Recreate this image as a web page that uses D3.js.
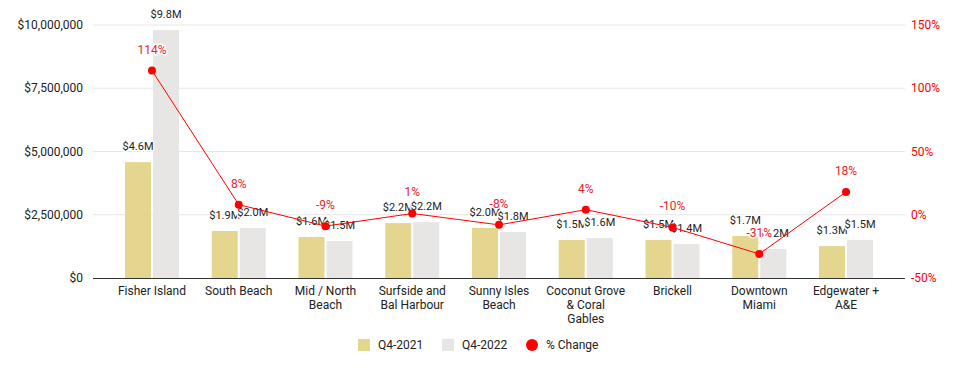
<!DOCTYPE html>
<html>
<head>
<meta charset="utf-8">
<script src="https://cdn.jsdelivr.net/npm/d3@7"></script>
<style>
  body { margin: 0; background: #fff; }
  svg { font-family: Roboto, "Noto Sans", Arial, sans-serif; }
</style>
</head>
<body>
<svg id="chart"></svg>
<script>
// data
const areas = [
  ["Fisher Island"], ["South Beach"], ["Mid / North", "Beach"],
  ["Surfside and", "Bal Harbour"], ["Sunny Isles", "Beach"],
  ["Coconut Grove", "& Coral", "Gables"], ["Brickell"],
  ["Downtown", "Miami"], ["Edgewater +", "A&E"]
];
const q4_2021 = [4.58, 1.86, 1.62, 2.17, 1.98, 1.50, 1.50, 1.66, 1.26];
const q4_2022 = [9.80, 1.98, 1.46, 2.21, 1.82, 1.58, 1.34, 1.15, 1.50];
const q4_2021_labels = ["$4.6M", "$1.9M", "$1.6M", "$2.2M", "$2.0M", "$1.5M", "$1.5M", "$1.7M", "$1.3M"];
const q4_2022_labels = ["$9.8M", "$2.0M", "$1.5M", "$2.2M", "$1.8M", "$1.6M", "$1.4M", "$1.2M", "$1.5M"];
const pctChange = [114, 8, -9, 1, -8, 4, -10, -31, 18];
const leftTicks = [0, 2.5, 7.5, 5, 10];
const rightTicks = [-50, 0, 50, 100, 150];
const seriesNames = ["Q4-2021", "Q4-2022", "% Change"];

const W = 962, H = 371;
const col2021 = "#e5d68f", col2022 = "#e8e6e4", red = "#ff0000", redText = "#e8232a";

const svg = d3.select("#chart").attr("width", W).attr("height", H);

const x0 = 93, x1 = 905, yTop = 25, yBot = 278;
const keys = areas.map(a => a.join(" "));
const x = d3.scaleBand().domain(keys).range([108.6, 889.4]);
const y = d3.scaleLinear().domain([0, 10]).range([yBot, yTop]);
const yr = d3.scaleLinear().domain([-50, 150]).range([yBot, yTop]);

// gridlines
svg.append("g").selectAll("line").data(leftTicks.filter(d => d > 0)).join("line")
  .attr("x1", x0).attr("x2", x1)
  .attr("y1", d => y(d)).attr("y2", d => y(d))
  .attr("stroke", "#e6e6e6").attr("stroke-width", 1);

// left axis labels
svg.append("g").selectAll("text").data(leftTicks).join("text")
  .attr("x", 83).attr("y", d => y(d)).attr("dy", "0.35em")
  .attr("text-anchor", "end").attr("font-size", 12).attr("fill", "#222")
  .text(d => "$" + d3.format(",")(d * 1e6));

// right axis labels
svg.append("g").selectAll("text").data(rightTicks).join("text")
  .attr("x", 911).attr("y", d => yr(d)).attr("dy", "0.35em")
  .attr("text-anchor", "start").attr("font-size", 12).attr("fill", red)
  .text(d => d + "%");

const bw = 26, gap = 1;
const groups = svg.append("g").selectAll("g").data(keys).join("g")
  .attr("transform", d => `translate(${x(d) + x.bandwidth() / 2},0)`);

groups.append("rect")
  .attr("x", -bw - gap).attr("width", bw)
  .attr("y", (d, i) => y(q4_2021[i])).attr("height", (d, i) => yBot - y(q4_2021[i]))
  .attr("fill", col2021);
groups.append("rect")
  .attr("x", gap).attr("width", bw)
  .attr("y", (d, i) => y(q4_2022[i])).attr("height", (d, i) => yBot - y(q4_2022[i]))
  .attr("fill", col2022);

// baseline
svg.append("line").attr("x1", x0).attr("x2", x1).attr("y1", yBot + 0.5).attr("y2", yBot + 0.5)
  .attr("stroke", "#333").attr("stroke-width", 1.2);

// category labels
groups.each(function(d, i) {
  const t = d3.select(this).append("text")
    .attr("text-anchor", "middle").attr("font-size", 12).attr("fill", "#222");
  areas[i].forEach((line, j) => {
    t.append("tspan").attr("x", 0).attr("y", yBot + 17 + j * 14).text(line);
  });
});

// % change line
const line = d3.line()
  .x((d, i) => x(keys[i]) + x.bandwidth() / 2)
  .y(d => yr(d));
svg.append("path").datum(pctChange).attr("d", line)
  .attr("fill", "none").attr("stroke", red).attr("stroke-width", 1);
svg.append("g").selectAll("circle").data(pctChange).join("circle")
  .attr("cx", (d, i) => x(keys[i]) + x.bandwidth() / 2)
  .attr("cy", d => yr(d)).attr("r", 4).attr("fill", red);

// value labels
function halo(sel) {
  return sel.attr("stroke", "#fff").attr("stroke-width", 3).attr("stroke-linejoin", "round")
    .attr("paint-order", "stroke");
}
groups.append("text").call(halo)
  .attr("x", -bw / 2 - gap).attr("y", (d, i) => y(q4_2021[i]) - 12)
  .attr("text-anchor", "middle").attr("font-size", 11).attr("fill", "#222")
  .text((d, i) => q4_2021_labels[i]);
groups.append("text").call(halo)
  .attr("x", bw / 2 + gap).attr("y", (d, i) => y(q4_2022[i]) - 12)
  .attr("text-anchor", "middle").attr("font-size", 11).attr("fill", "#222")
  .text((d, i) => q4_2022_labels[i]);

// percent labels
svg.append("g").selectAll("text").data(pctChange).join("text").call(halo)
  .attr("x", (d, i) => x(keys[i]) + x.bandwidth() / 2)
  .attr("y", d => yr(d) - 17)
  .attr("text-anchor", "middle").attr("font-size", 12).attr("fill", redText)
  .text(d => d + "%");

// legend
const lg = svg.append("g").attr("transform", "translate(0,345)");
const items = [
  { name: seriesNames[0], x: 358, type: "rect", color: col2021 },
  { name: seriesNames[1], x: 442, type: "rect", color: col2022 },
  { name: seriesNames[2], x: 526, type: "circle", color: red }
];
items.forEach(it => {
  if (it.type === "rect") {
    lg.append("rect").attr("x", it.x).attr("y", -6).attr("width", 12).attr("height", 12).attr("fill", it.color);
  } else {
    lg.append("circle").attr("cx", it.x + 6).attr("cy", 0).attr("r", 6).attr("fill", it.color);
  }
  lg.append("text").attr("x", it.x + 20).attr("y", 0).attr("dy", "0.35em")
    .attr("font-size", 12).attr("fill", "#222").text(it.name);
});
</script>
</body>
</html>
